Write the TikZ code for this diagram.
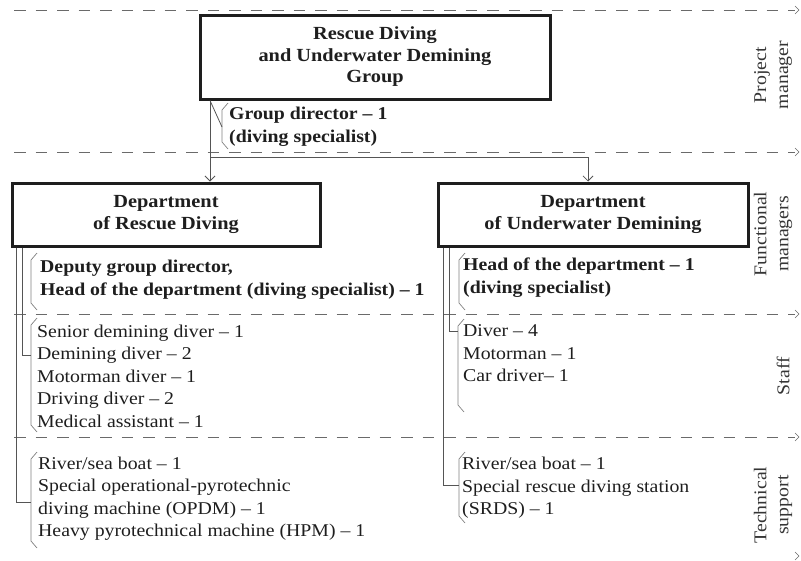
\documentclass[tikz,border=0pt]{standalone}
\usepackage{fontspec}
\setmainfont{Liberation Serif}[FakeStretch=1.1]
\usetikzlibrary{arrows.meta}

\definecolor{ink}{HTML}{1E1E1E}
\definecolor{wire}{HTML}{555555}
\definecolor{brace}{HTML}{808080}
\definecolor{zone}{HTML}{6A6A6A}

% thin bracket drawn in front of a text block: x, top y, bottom y
\newcommand{\listbrace}[3]{%
  \draw[bracestyle] ({#1+6},#2) -- (#1,{#2+7}) -- (#1,{#3-7}) -- ({#1+6},#3);}
% end mark on the right of a zone border
\newcommand{\zonemark}[1]{%
  \draw[zone, line width=0.6pt] (795,{#1-4}) -- (799,#1) -- (795,{#1+4});}

\begin{document}
\begin{tikzpicture}[x=1pt,y=-1pt,
  unitbox/.style={draw=ink, line width=3pt, inner sep=0pt, align=center,
    text=ink, font=\bfseries\fontsize{18.5}{21.5}\selectfont},
  boldlist/.style={anchor=west, inner sep=0pt, align=left, text=ink,
    font=\bfseries\fontsize{18}{22.5}\selectfont},
  plainlist/.style={anchor=west, inner sep=0pt, align=left, text=ink,
    font=\fontsize{18}{22.5}\selectfont},
  zonelabel/.style={rotate=90, inner sep=0pt, align=center, text=ink!90,
    font=\fontsize{18}{22}\selectfont},
  zoneline/.style={zone, line width=0.8pt, dash pattern=on 11.5pt off 10pt},
  link/.style={wire, line width=0.8pt},
  arrowlink/.style={link, -{Straight Barb[length=5pt,width=10pt]}},
  bracestyle/.style={brace, line width=0.7pt}]

\useasboundingbox (0,0) rectangle (801,560);

% zone borders
\foreach \yy in {10,152,314,437}{
  \draw[zoneline] (14,\yy) -- (795,\yy);
  \zonemark{\yy}
}
\zonemark{556}

% zone captions
\node[zonelabel] (zproj) at (773,75) {Project\\manager};
\node[zonelabel] (zfunc) at (773,234) {Functional\\managers};
\node[zonelabel] (zstaff) at (783,376) {Staff};
\node[zonelabel] (ztech) at (773,505) {Technical\\support};

% units
\node[unitbox, minimum width=350pt, minimum height=84pt] (grp) at (375,57)
  {Rescue Diving\\and Underwater Demining\\Group};
\node[unitbox, minimum width=308pt, minimum height=63pt] (rescue) at (166,214.5)
  {Department\\of Rescue Diving};
\node[unitbox, minimum width=310pt, minimum height=63pt] (demine) at (593,214.5)
  {Department\\of Underwater Demining};

% group level
\node[boldlist] (gdir) at (229,126.5) {Group director -- 1\\(diving specialist)};
\listbrace{222}{103}{149}
\coordinate (gdirtick) at (222,127);
\coordinate (gsplit) at (210,157);
\coordinate (gturn) at (588,157);

\draw[arrowlink] (grp.south -| gsplit) -- (rescue.north -| gsplit);
\draw[link] (grp.south -| gsplit |- gdirtick) -- (gdirtick);
\draw[arrowlink] (gsplit) -- (gturn) -- (demine.north -| gturn);

% department of rescue diving
\node[boldlist] (dep) at (40,279.5)
  {Deputy group director,\\Head of the department (diving specialist) -- 1};
\listbrace{31}{253}{310}
\node[plainlist] (lstaff) at (37,376)
  {Senior demining diver -- 1\\Demining diver -- 2\\Motorman diver -- 1\\Driving diver -- 2\\Medical assistant -- 1};
\listbrace{31}{318}{432}
\node[plainlist] (ltech) at (38,498.5)
  {River/sea boat -- 1\\Special operational-pyrotechnic\\diving machine (OPDM) -- 1\\Heavy pyrotechnical machine (HPM) -- 1};
\listbrace{31}{452}{548}

\coordinate (lstafftick) at (31,355);
\coordinate (ltechtick) at (31,502);
\draw[link] (rescue.south west) ++(12,0) coordinate (lin) -- (lin |- lstafftick) -- (lstafftick);
\draw[link] (rescue.south west) ++(6,0) coordinate (lout) -- (lout |- ltechtick) -- (ltechtick);

% department of underwater demining
\node[boldlist] (head) at (463,277.5) {Head of the department -- 1\\(diving specialist)};
\listbrace{459}{253}{310}
\node[plainlist] (rstaff) at (463,353.5) {Diver -- 4\\Motorman -- 1\\Car driver-- 1};
\listbrace{458}{319}{412}
\node[plainlist] (rtech) at (462,488)
  {River/sea boat -- 1\\Special rescue diving station\\(SRDS) -- 1};
\listbrace{459}{452}{523}

\coordinate (rstafftick) at (458,331);
\coordinate (rtechtick) at (459,485);
\draw[link] (demine.south west) ++(13,0) coordinate (rin) -- (rin |- rstafftick) -- (rstafftick);
\draw[link] (demine.south west) ++(7,0) coordinate (rout) -- (rout |- rtechtick) -- (rtechtick);

\end{tikzpicture}
\end{document}
